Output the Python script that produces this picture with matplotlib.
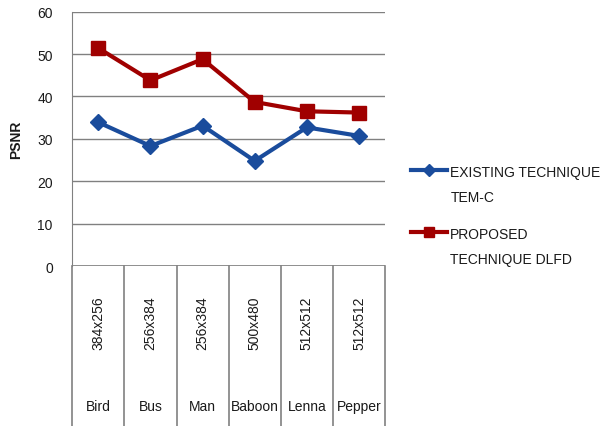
import matplotlib.pyplot as plt
import matplotlib.transforms as mtransforms
import numpy as np

plt.rcParams['font.family'] = ['Liberation Sans', 'DejaVu Sans']

names = ['Bird', 'Bus', 'Man', 'Baboon', 'Lenna', 'Pepper']
sizes = ['384x256', '256x384', '256x384', '500x480', '512x512', '512x512']
existing = [33.9, 28.3, 33.1, 24.8, 32.7, 30.7]
proposed = [51.4, 43.8, 48.8, 38.7, 36.5, 36.2]
labels = ['EXISTING TECHNIQUE\nTEM-C', 'PROPOSED\nTECHNIQUE DLFD']

blue = '#1a4c9c'
red = '#a00000'
grid = '#808080'
txt = '#1a1a1a'
fs = 10

fig = plt.figure(figsize=(6.03, 4.27), dpi=100)
ax = fig.add_axes([0.1199, 0.3747, 0.5186, 0.5956])

x = np.arange(len(names)) + 0.5
l1, = ax.plot(x, existing, color=blue, lw=3, marker='D', ms=8, mec=blue, mfc=blue)
l2, = ax.plot(x, proposed, color=red, lw=3, marker='s', ms=10, mec=red, mfc=red)

ax.set_xlim(0, len(names))
ax.set_ylim(0, 60)
ax.set_yticks(range(0, 61, 10))
ax.yaxis.grid(True, color=grid, lw=1)
ax.set_axisbelow(True)
ax.set_xticks([])
for s in ['top', 'right', 'bottom']:
    ax.spines[s].set_visible(False)
ax.spines['left'].set_color(grid)
ax.axhline(0, color=grid, lw=1.2)
ax.tick_params(axis='y', length=0, pad=14, labelsize=fs, labelcolor=txt)
ax.set_ylabel('PSNR', fontsize=fs, fontweight='bold', labelpad=10, color=txt)

# category table below the axis
trans = mtransforms.blended_transform_factory(ax.transData, fig.transFigure)
for i in range(len(names) + 1):
    ax.plot([i, i], [0, 0.3747], color=grid, lw=1.2, transform=trans, clip_on=False)
for i in range(len(names)):
    ax.text(i + 0.5, 0.2436, sizes[i], rotation=90, ha='center', va='center',
            fontsize=fs, transform=trans, color=txt)
    ax.text(i + 0.5, 0.047, names[i], ha='center', va='center',
            fontsize=fs, transform=trans, color=txt)

leg = fig.legend([l1, l2], labels, loc='upper left', bbox_to_anchor=(0.672, 0.624),
                 frameon=False, fontsize=fs, handlelength=2.6, handletextpad=0.25,
                 labelspacing=1.65, borderaxespad=0, markerscale=0.75)
for t in leg.get_texts():
    t.set_linespacing(2.0)
    t.set_color(txt)
for col in leg._legend_handle_box.get_children():
    for row in col.get_children():
        row.align = 'top'

fig.savefig('out.png', dpi=100)
